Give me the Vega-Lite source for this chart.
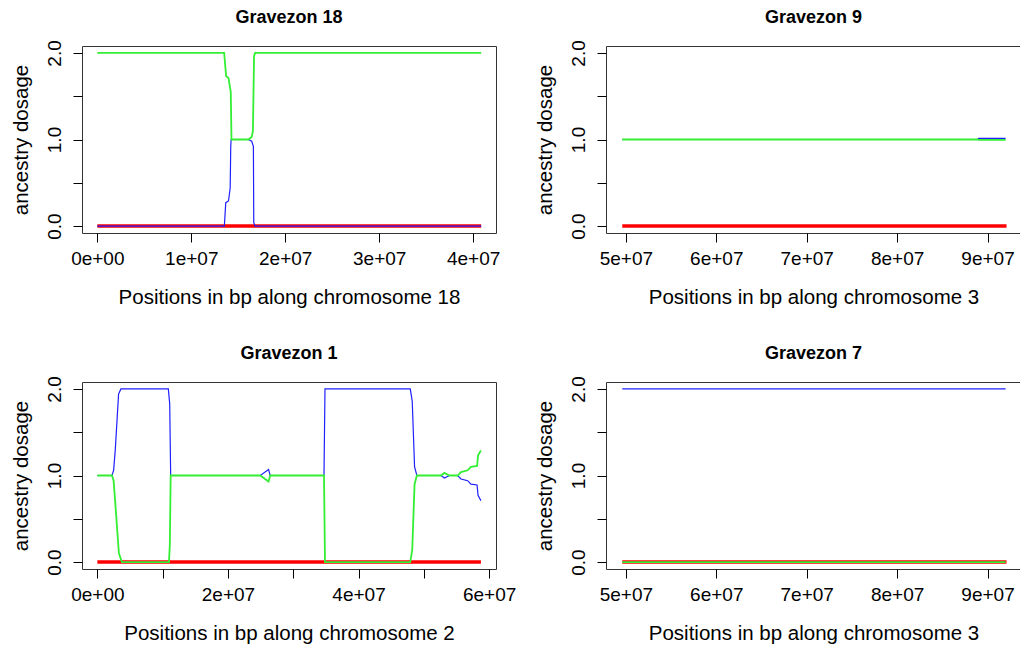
{
  "$schema": "https://vega.github.io/schema/vega-lite/v6.json",
  "background": "white",
  "padding": {"left": 10, "top": 8, "right": 0, "bottom": 5},
  "bounds": "flush",
  "columns": 2,
  "spacing": {"row": 149, "column": 110},
  "data": {"values": [
    {"panel": "Gravezon 18", "anc": "pop1", "pos": 0, "dosage": 0},
    {"panel": "Gravezon 18", "anc": "pop1", "pos": 40850000, "dosage": 0},
    {"panel": "Gravezon 18", "anc": "pop2", "pos": 0, "dosage": 0},
    {"panel": "Gravezon 18", "anc": "pop2", "pos": 13520000, "dosage": 0},
    {"panel": "Gravezon 18", "anc": "pop2", "pos": 13670000, "dosage": 0.27},
    {"panel": "Gravezon 18", "anc": "pop2", "pos": 13960000, "dosage": 0.29},
    {"panel": "Gravezon 18", "anc": "pop2", "pos": 14140000, "dosage": 0.44},
    {"panel": "Gravezon 18", "anc": "pop2", "pos": 14200000, "dosage": 0.92},
    {"panel": "Gravezon 18", "anc": "pop2", "pos": 14240000, "dosage": 1.0},
    {"panel": "Gravezon 18", "anc": "pop2", "pos": 16080000, "dosage": 1.0},
    {"panel": "Gravezon 18", "anc": "pop2", "pos": 16430000, "dosage": 0.98},
    {"panel": "Gravezon 18", "anc": "pop2", "pos": 16610000, "dosage": 0.92},
    {"panel": "Gravezon 18", "anc": "pop2", "pos": 16650000, "dosage": 0.04},
    {"panel": "Gravezon 18", "anc": "pop2", "pos": 16790000, "dosage": 0},
    {"panel": "Gravezon 18", "anc": "pop2", "pos": 40850000, "dosage": 0},
    {"panel": "Gravezon 18", "anc": "pop3", "pos": 0, "dosage": 2},
    {"panel": "Gravezon 18", "anc": "pop3", "pos": 13500000, "dosage": 2},
    {"panel": "Gravezon 18", "anc": "pop3", "pos": 13710000, "dosage": 1.73},
    {"panel": "Gravezon 18", "anc": "pop3", "pos": 13960000, "dosage": 1.71},
    {"panel": "Gravezon 18", "anc": "pop3", "pos": 14200000, "dosage": 1.55},
    {"panel": "Gravezon 18", "anc": "pop3", "pos": 14280000, "dosage": 1.0},
    {"panel": "Gravezon 18", "anc": "pop3", "pos": 16080000, "dosage": 1.0},
    {"panel": "Gravezon 18", "anc": "pop3", "pos": 16430000, "dosage": 1.03},
    {"panel": "Gravezon 18", "anc": "pop3", "pos": 16560000, "dosage": 1.1},
    {"panel": "Gravezon 18", "anc": "pop3", "pos": 16680000, "dosage": 1.96},
    {"panel": "Gravezon 18", "anc": "pop3", "pos": 16790000, "dosage": 2},
    {"panel": "Gravezon 18", "anc": "pop3", "pos": 40850000, "dosage": 2},

    {"panel": "Gravezon 9", "anc": "pop1", "pos": 49600000, "dosage": 0},
    {"panel": "Gravezon 9", "anc": "pop1", "pos": 92100000, "dosage": 0},
    {"panel": "Gravezon 9", "anc": "pop2", "pos": 49600000, "dosage": 1},
    {"panel": "Gravezon 9", "anc": "pop2", "pos": 88900000, "dosage": 1},
    {"panel": "Gravezon 9", "anc": "pop2", "pos": 89000000, "dosage": 1.012},
    {"panel": "Gravezon 9", "anc": "pop2", "pos": 92000000, "dosage": 1.012},
    {"panel": "Gravezon 9", "anc": "pop3", "pos": 49600000, "dosage": 1},
    {"panel": "Gravezon 9", "anc": "pop3", "pos": 88900000, "dosage": 1},
    {"panel": "Gravezon 9", "anc": "pop3", "pos": 89000000, "dosage": 0.995},
    {"panel": "Gravezon 9", "anc": "pop3", "pos": 92000000, "dosage": 0.995},

    {"panel": "Gravezon 1", "anc": "pop1", "pos": 0, "dosage": 0},
    {"panel": "Gravezon 1", "anc": "pop1", "pos": 58740000, "dosage": 0},
    {"panel": "Gravezon 1", "anc": "pop2", "pos": 0, "dosage": 1},
    {"panel": "Gravezon 1", "anc": "pop2", "pos": 2240000, "dosage": 1},
    {"panel": "Gravezon 1", "anc": "pop2", "pos": 2490000, "dosage": 1.06},
    {"panel": "Gravezon 1", "anc": "pop2", "pos": 2740000, "dosage": 1.29},
    {"panel": "Gravezon 1", "anc": "pop2", "pos": 3250000, "dosage": 1.94},
    {"panel": "Gravezon 1", "anc": "pop2", "pos": 3610000, "dosage": 2},
    {"panel": "Gravezon 1", "anc": "pop2", "pos": 10870000, "dosage": 2},
    {"panel": "Gravezon 1", "anc": "pop2", "pos": 11080000, "dosage": 1.83},
    {"panel": "Gravezon 1", "anc": "pop2", "pos": 11230000, "dosage": 1.0},
    {"panel": "Gravezon 1", "anc": "pop2", "pos": 24950000, "dosage": 1.0},
    {"panel": "Gravezon 1", "anc": "pop2", "pos": 26220000, "dosage": 1.07},
    {"panel": "Gravezon 1", "anc": "pop2", "pos": 26470000, "dosage": 1.0},
    {"panel": "Gravezon 1", "anc": "pop2", "pos": 34710000, "dosage": 1.0},
    {"panel": "Gravezon 1", "anc": "pop2", "pos": 34860000, "dosage": 2.0},
    {"panel": "Gravezon 1", "anc": "pop2", "pos": 47920000, "dosage": 2.0},
    {"panel": "Gravezon 1", "anc": "pop2", "pos": 48220000, "dosage": 1.86},
    {"panel": "Gravezon 1", "anc": "pop2", "pos": 48580000, "dosage": 1.1},
    {"panel": "Gravezon 1", "anc": "pop2", "pos": 48930000, "dosage": 1.0},
    {"panel": "Gravezon 1", "anc": "pop2", "pos": 52640000, "dosage": 1.0},
    {"panel": "Gravezon 1", "anc": "pop2", "pos": 53150000, "dosage": 0.97},
    {"panel": "Gravezon 1", "anc": "pop2", "pos": 53910000, "dosage": 1.0},
    {"panel": "Gravezon 1", "anc": "pop2", "pos": 55180000, "dosage": 1.0},
    {"panel": "Gravezon 1", "anc": "pop2", "pos": 55690000, "dosage": 0.96},
    {"panel": "Gravezon 1", "anc": "pop2", "pos": 56710000, "dosage": 0.94},
    {"panel": "Gravezon 1", "anc": "pop2", "pos": 57210000, "dosage": 0.9},
    {"panel": "Gravezon 1", "anc": "pop2", "pos": 58150000, "dosage": 0.89},
    {"panel": "Gravezon 1", "anc": "pop2", "pos": 58300000, "dosage": 0.77},
    {"panel": "Gravezon 1", "anc": "pop2", "pos": 58740000, "dosage": 0.71},
    {"panel": "Gravezon 1", "anc": "pop3", "pos": 0, "dosage": 1},
    {"panel": "Gravezon 1", "anc": "pop3", "pos": 2240000, "dosage": 1},
    {"panel": "Gravezon 1", "anc": "pop3", "pos": 2490000, "dosage": 0.94},
    {"panel": "Gravezon 1", "anc": "pop3", "pos": 2740000, "dosage": 0.69},
    {"panel": "Gravezon 1", "anc": "pop3", "pos": 3300000, "dosage": 0.1},
    {"panel": "Gravezon 1", "anc": "pop3", "pos": 3760000, "dosage": 0},
    {"panel": "Gravezon 1", "anc": "pop3", "pos": 10970000, "dosage": 0},
    {"panel": "Gravezon 1", "anc": "pop3", "pos": 11100000, "dosage": 0.2},
    {"panel": "Gravezon 1", "anc": "pop3", "pos": 11230000, "dosage": 1.0},
    {"panel": "Gravezon 1", "anc": "pop3", "pos": 24950000, "dosage": 1.0},
    {"panel": "Gravezon 1", "anc": "pop3", "pos": 26220000, "dosage": 0.93},
    {"panel": "Gravezon 1", "anc": "pop3", "pos": 26470000, "dosage": 1.0},
    {"panel": "Gravezon 1", "anc": "pop3", "pos": 34710000, "dosage": 1.0},
    {"panel": "Gravezon 1", "anc": "pop3", "pos": 34860000, "dosage": 0},
    {"panel": "Gravezon 1", "anc": "pop3", "pos": 47920000, "dosage": 0},
    {"panel": "Gravezon 1", "anc": "pop3", "pos": 48220000, "dosage": 0.14},
    {"panel": "Gravezon 1", "anc": "pop3", "pos": 48580000, "dosage": 0.9},
    {"panel": "Gravezon 1", "anc": "pop3", "pos": 48930000, "dosage": 1.0},
    {"panel": "Gravezon 1", "anc": "pop3", "pos": 52640000, "dosage": 1.0},
    {"panel": "Gravezon 1", "anc": "pop3", "pos": 53150000, "dosage": 1.03},
    {"panel": "Gravezon 1", "anc": "pop3", "pos": 53910000, "dosage": 1.0},
    {"panel": "Gravezon 1", "anc": "pop3", "pos": 55180000, "dosage": 1.0},
    {"panel": "Gravezon 1", "anc": "pop3", "pos": 55690000, "dosage": 1.04},
    {"panel": "Gravezon 1", "anc": "pop3", "pos": 56710000, "dosage": 1.06},
    {"panel": "Gravezon 1", "anc": "pop3", "pos": 57210000, "dosage": 1.1},
    {"panel": "Gravezon 1", "anc": "pop3", "pos": 58150000, "dosage": 1.11},
    {"panel": "Gravezon 1", "anc": "pop3", "pos": 58300000, "dosage": 1.23},
    {"panel": "Gravezon 1", "anc": "pop3", "pos": 58740000, "dosage": 1.29},

    {"panel": "Gravezon 7", "anc": "pop1", "pos": 49600000, "dosage": 0},
    {"panel": "Gravezon 7", "anc": "pop1", "pos": 92100000, "dosage": 0},
    {"panel": "Gravezon 7", "anc": "pop2", "pos": 49600000, "dosage": 2},
    {"panel": "Gravezon 7", "anc": "pop2", "pos": 92000000, "dosage": 2},
    {"panel": "Gravezon 7", "anc": "pop3", "pos": 49600000, "dosage": 0},
    {"panel": "Gravezon 7", "anc": "pop3", "pos": 92000000, "dosage": 0}
  ]},
  "resolve": {"scale": {"x": "independent", "y": "independent"}},
  "concat": [
    {
      "width": 414, "height": 187,
      "title": "Gravezon 18",
      "transform": [{"filter": "datum.panel == 'Gravezon 18'"}],
      "encoding": {
        "x": {"field": "pos", "type": "quantitative", "scale": {"domain": [-1630000, 42430000], "nice": false, "zero": false},
              "axis": {"values": [0, 10000000, 20000000, 30000000, 40000000], "labelExpr": "replace(format(datum.value, '.0e'), 'e+', 'e+0')", "title": "Positions in bp along chromosome 18"}},
        "y": {"field": "dosage", "type": "quantitative", "scale": {"domain": [-0.08, 2.08], "nice": false, "zero": false},
              "axis": {"values": [0, 0.5, 1, 1.5, 2], "labelExpr": "datum.value % 1 == 0 ? format(datum.value, '.1f') : ''", "title": "ancestry dosage"}}
      },
      "layer": [
        {"transform": [{"filter": "datum.anc == 'pop1'"}], "mark": {"type": "line", "color": "#ff0000", "strokeWidth": 3.5}},
        {"transform": [{"filter": "datum.anc == 'pop2'"}], "mark": {"type": "line", "color": "#2020ff", "strokeWidth": 1.2}},
        {"transform": [{"filter": "datum.anc == 'pop3'"}], "mark": {"type": "line", "color": "#33ee33", "strokeWidth": 1.8}}
      ]
    },
    {
      "width": 415, "height": 187,
      "title": "Gravezon 9",
      "transform": [{"filter": "datum.panel == 'Gravezon 9'"}],
      "encoding": {
        "x": {"field": "pos", "type": "quantitative", "scale": {"domain": [47800000, 93700000], "nice": false, "zero": false},
              "axis": {"values": [50000000, 60000000, 70000000, 80000000, 90000000], "labelExpr": "replace(format(datum.value, '.0e'), 'e+', 'e+0')", "title": "Positions in bp along chromosome 3"}},
        "y": {"field": "dosage", "type": "quantitative", "scale": {"domain": [-0.08, 2.08], "nice": false, "zero": false},
              "axis": {"values": [0, 0.5, 1, 1.5, 2], "labelExpr": "datum.value % 1 == 0 ? format(datum.value, '.1f') : ''", "title": "ancestry dosage"}}
      },
      "layer": [
        {"transform": [{"filter": "datum.anc == 'pop1'"}], "mark": {"type": "line", "color": "#ff0000", "strokeWidth": 3.5}},
        {"transform": [{"filter": "datum.anc == 'pop2'"}], "mark": {"type": "line", "color": "#2020ff", "strokeWidth": 1.2}},
        {"transform": [{"filter": "datum.anc == 'pop3'"}], "mark": {"type": "line", "color": "#33ee33", "strokeWidth": 1.8}}
      ]
    },
    {
      "width": 414, "height": 187,
      "title": "Gravezon 1",
      "transform": [{"filter": "datum.panel == 'Gravezon 1'"}],
      "encoding": {
        "x": {"field": "pos", "type": "quantitative", "scale": {"domain": [-2350000, 61050000], "nice": false, "zero": false},
              "axis": {"values": [0, 10000000, 20000000, 30000000, 40000000, 50000000, 60000000], "labelExpr": "round(datum.value / 10000000) % 2 == 0 ? replace(format(datum.value, '.0e'), 'e+', 'e+0') : ''", "title": "Positions in bp along chromosome 2"}},
        "y": {"field": "dosage", "type": "quantitative", "scale": {"domain": [-0.08, 2.08], "nice": false, "zero": false},
              "axis": {"values": [0, 0.5, 1, 1.5, 2], "labelExpr": "datum.value % 1 == 0 ? format(datum.value, '.1f') : ''", "title": "ancestry dosage"}}
      },
      "layer": [
        {"transform": [{"filter": "datum.anc == 'pop1'"}], "mark": {"type": "line", "color": "#ff0000", "strokeWidth": 3.5}},
        {"transform": [{"filter": "datum.anc == 'pop2'"}], "mark": {"type": "line", "color": "#2020ff", "strokeWidth": 1.2}},
        {"transform": [{"filter": "datum.anc == 'pop3'"}], "mark": {"type": "line", "color": "#33ee33", "strokeWidth": 1.8}}
      ]
    },
    {
      "width": 415, "height": 187,
      "title": "Gravezon 7",
      "transform": [{"filter": "datum.panel == 'Gravezon 7'"}],
      "encoding": {
        "x": {"field": "pos", "type": "quantitative", "scale": {"domain": [47800000, 93700000], "nice": false, "zero": false},
              "axis": {"values": [50000000, 60000000, 70000000, 80000000, 90000000], "labelExpr": "replace(format(datum.value, '.0e'), 'e+', 'e+0')", "title": "Positions in bp along chromosome 3"}},
        "y": {"field": "dosage", "type": "quantitative", "scale": {"domain": [-0.08, 2.08], "nice": false, "zero": false},
              "axis": {"values": [0, 0.5, 1, 1.5, 2], "labelExpr": "datum.value % 1 == 0 ? format(datum.value, '.1f') : ''", "title": "ancestry dosage"}}
      },
      "layer": [
        {"transform": [{"filter": "datum.anc == 'pop1'"}], "mark": {"type": "line", "color": "#ff0000", "strokeWidth": 3.5}},
        {"transform": [{"filter": "datum.anc == 'pop2'"}], "mark": {"type": "line", "color": "#2020ff", "strokeWidth": 1.2}},
        {"transform": [{"filter": "datum.anc == 'pop3'"}], "mark": {"type": "line", "color": "#33ee33", "strokeWidth": 1.8}}
      ]
    }
  ],
  "config": {
    "font": "Liberation Sans",
    "view": {"stroke": "#333333", "strokeWidth": 1},
    "axis": {
      "domain": false, "grid": false,
      "ticks": true, "tickColor": "#000000", "tickSize": 9, "tickWidth": 1,
      "labelFont": "Liberation Sans", "labelFontSize": 19, "labelColor": "#000000", "labelPadding": 7,
      "labelOverlap": false, "labelFlush": false,
      "titleFont": "Liberation Sans", "titleFontSize": 20.5, "titleFontWeight": "normal", "titleColor": "#000000", "titlePadding": 19
    },
    "axisY": {"labelAngle": -90, "labelAlign": "center", "labelBaseline": "bottom", "labelPadding": 9, "titlePadding": 14},
    "title": {"fontSize": 18, "fontWeight": "bold", "font": "Liberation Sans", "color": "#000000", "frame": "group", "anchor": "middle", "offset": 13}
  }
}
